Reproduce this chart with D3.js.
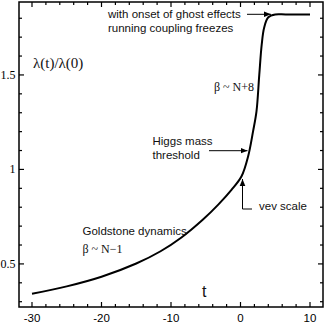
<!DOCTYPE html>
<html><head><meta charset="utf-8">
<script src="https://cdn.jsdelivr.net/npm/d3@7"></script>
<style>html,body{margin:0;padding:0;background:#fff;} svg{display:block;}</style>
</head><body>
<script>
const tValues = [-30,-25,-20,-15,-11.5,-8.5,-5.4,-3.2,-1.3,0.15,1.1,1.8,2.3,2.7,3.05,3.4,4,5,6.5,10];
const lambdaValues = [0.342,0.381,0.432,0.502,0.567,0.640,0.735,0.814,0.892,0.964,1.07,1.2,1.307,1.5,1.66,1.75,1.805,1.82,1.82,1.82];
const xTickLabels = [-30,-20,-10,0,10];
const yTickLabels = [0.5,1,1.5];
const xMinor = d3.range(-30,11,2);
const yMinor = d3.range(0.3,1.85,0.1).map(v=>+v.toFixed(1));

const W=327,H=324;
const svg=d3.select("body").append("svg").attr("width",W).attr("height",H);
const L=19,R=323,T=2,B=307;
const x=d3.scaleLinear().domain([-31.87,11.87]).range([L,R]);
const y=d3.scaleLinear().domain([0.272,1.886]).range([B,T]);

const defs=svg.append("defs");
defs.append("marker").attr("id","ah").attr("viewBox","0 0 10 10").attr("refX",10).attr("refY",5)
  .attr("markerWidth",7).attr("markerHeight",7).attr("markerUnits","userSpaceOnUse").attr("orient","auto")
  .append("path").attr("d","M0,1 L10,5 L0,9 Z").attr("fill","#000");

// frame
svg.append("rect").attr("x",L).attr("y",T).attr("width",R-L).attr("height",B-T)
  .attr("fill","none").attr("stroke","#000").attr("stroke-width",1.5);

const ax=svg.append("g");
const isMajX=v=>xTickLabels.includes(v);
const isMajY=v=>yTickLabels.some(m=>Math.abs(m-v)<1e-6);
xMinor.forEach(v=>{
  const len=isMajX(v)?5:3;
  ax.append("line").attr("x1",x(v)).attr("x2",x(v)).attr("y1",B).attr("y2",B-len).attr("stroke","#000").attr("stroke-width",1.2);
  ax.append("line").attr("x1",x(v)).attr("x2",x(v)).attr("y1",T).attr("y2",T+len).attr("stroke","#000").attr("stroke-width",1.2);
});
yMinor.forEach(v=>{
  const len=isMajY(v)?5:3;
  ax.append("line").attr("x1",L).attr("x2",L+len).attr("y1",y(v)).attr("y2",y(v)).attr("stroke","#000").attr("stroke-width",1.2);
  ax.append("line").attr("x1",R).attr("x2",R-len).attr("y1",y(v)).attr("y2",y(v)).attr("stroke","#000").attr("stroke-width",1.2);
});
xTickLabels.forEach(v=>{
  ax.append("text").attr("x",x(v)).attr("y",322).attr("text-anchor","middle")
    .attr("font-family","Liberation Sans, Arial, sans-serif").attr("font-size",11.5).text(v<0?"-"+Math.abs(v):v);
});
yTickLabels.forEach(v=>{
  ax.append("text").attr("x",15.5).attr("y",y(v)+4).attr("text-anchor","end")
    .attr("font-family","Liberation Serif, Times New Roman, serif").attr("font-size",12).text(v);
});

// curve
const data=tValues.map((t,i)=>({t,l:lambdaValues[i]}));
svg.append("path").datum(data).attr("fill","none").attr("stroke","#000").attr("stroke-width",2)
  .attr("d",d3.line().x(d=>x(d.t)).y(d=>y(d.l)).curve(d3.curveCatmullRom.alpha(0.5)));

const sans="Liberation Sans, Arial, sans-serif", serif="Liberation Serif, Times New Roman, serif";
function txt(xx,yy,s,f,fs){svg.append("text").attr("x",xx).attr("y",yy).attr("font-family",f).attr("font-size",fs).attr("fill","#111").text(s);}
txt(33,68,"λ(t)/λ(0)",serif,15);
txt(202,297,"t",sans,16);
txt(108,18,"with onset of ghost effects",sans,11.5);
txt(108,31.5,"running coupling freezes",sans,11.5);
txt(214,91,"β ~ N+8",serif,12);
txt(152.5,145,"Higgs mass",sans,11.5);
txt(152.5,158.5,"threshold",sans,11.5);
txt(259,210,"vev scale",sans,11.5);
txt(82.5,235,"Goldstone dynamics",sans,11.5);
txt(82.5,253,"β ~ N−1",serif,12);

// arrows
svg.append("line").attr("x1",247).attr("y1",14.3).attr("x2",271).attr("y2",14.3).attr("stroke","#000").attr("stroke-width",1).attr("marker-end","url(#ah)");
svg.append("line").attr("x1",209).attr("y1",150.7).attr("x2",247.5).attr("y2",150.7).attr("stroke","#000").attr("stroke-width",1).attr("marker-end","url(#ah)");
svg.append("path").attr("d","M252,209 L242.5,209 L242.5,179").attr("fill","none").attr("stroke","#000").attr("stroke-width",1).attr("marker-end","url(#ah)");
</script>
</body></html>
